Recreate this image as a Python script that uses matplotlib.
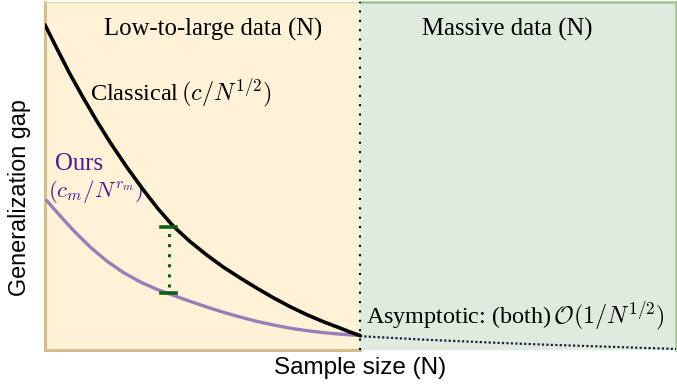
import matplotlib
matplotlib.use("Agg")
import matplotlib.pyplot as plt
from matplotlib.patches import Rectangle

plt.rcParams['mathtext.fontset'] = 'cm'

# ---- data (arbitrary units) ----
classical_x = [0.0, 1.90, 3.96, 6.07, 8.19, 10.30, 12.95, 15.58, 17.91, 20.33, 22.98,
               25.63, 28.21, 30.90, 33.60, 36.18, 38.83, 41.47, 44.06, 46.75, 48.34, 49.92]
classical_y = [93.39, 86.49, 79.17, 72.27, 65.66, 59.48, 52.30, 45.69, 40.23, 35.20, 30.75,
               26.87, 23.42, 20.26, 17.24, 14.51, 11.93, 9.63, 7.61, 5.75, 4.60, 3.59]
ours_x = [0.27, 2.38, 4.48, 7.13, 9.78, 12.41, 15.06, 17.70, 20.33, 22.98,
          25.63, 28.21, 30.90, 33.60, 36.18, 38.83, 41.47, 44.06, 46.75, 49.92]
ours_y = [42.61, 38.22, 34.02, 29.22, 25.14, 21.81, 19.11, 16.95, 15.20, 13.48,
          11.84, 10.34, 8.94, 7.67, 6.64, 5.72, 5.00, 4.43, 3.99, 3.59]
asym_x = [49.9, 60.0, 70.0, 80.0, 90.0, 100.0]
asym_y = [3.4, 2.4, 1.6, 0.9, 0.3, -0.3]
gap_x = 19.6
gap_low, gap_high = 15.8, 35.1
boundary_x = 49.9

fig = plt.figure(figsize=(6.77, 3.88), dpi=100)
ax = fig.add_axes([45/677, 38/388, 631/677, 348/388])
ax.set_xlim(0, 100)
ax.set_ylim(-0.6, 100)

# regions
ax.add_patch(Rectangle((0, -0.6), boundary_x, 100.6, facecolor='#FFF2D6',
                       edgecolor='none', zorder=0))
ax.add_patch(Rectangle((boundary_x, -0.6), 100 - boundary_x, 100.6,
                       facecolor='#DFECDD', edgecolor='none', zorder=0))
# borders
ax.plot([0, 0], [-0.6, 100], color='#D2BE8C', lw=2.2, zorder=1, clip_on=False)
ax.plot([0, boundary_x], [-0.6, -0.6], color='#D2BE8C', lw=2.2, zorder=1, clip_on=False)
ax.plot([0, boundary_x], [100, 100], color='#E8D9B0', lw=1.0, zorder=1, clip_on=False)
ax.plot([boundary_x, 100], [100, 100], color='#9DC78F', lw=1.8, zorder=1, clip_on=False)
ax.plot([100, 100], [-0.6, 100], color='#9DC78F', lw=1.8, zorder=1, clip_on=False)

ax.axvline(boundary_x, color='black', lw=1.5, ls=(0, (1, 3.5)), zorder=2)

ax.plot(ours_x, ours_y, color='#9A7CB8', lw=2.4, zorder=3,
        solid_capstyle='round', solid_joinstyle='round')
ax.plot(classical_x, classical_y, color='black', lw=2.6, zorder=4,
        solid_capstyle='round', solid_joinstyle='round')
ax.plot(asym_x, asym_y, color='#1E1E4A', lw=1.6, ls=(0, (1, 1)), zorder=3)

# gap bar
ax.plot([gap_x, gap_x], [gap_low + 1.7, gap_high - 1.7], color='#0F5F0F',
        lw=2.2, ls=(0, (1, 2.3)), zorder=5)
ax.plot([gap_x - 1.15, gap_x + 1.15], [gap_low, gap_low], color='#0F5F0F', lw=2.6, zorder=5)
ax.plot([gap_x - 1.15, gap_x + 1.15], [gap_high, gap_high], color='#0F5F0F', lw=2.6, zorder=5)

serif = 'Liberation Serif'
fs = 17.8
ax.text(26.7, 92.0, 'Low-to-large data (N)', family=serif, fontsize=fs,
        ha='center', va='center')
ax.text(73.2, 92.0, 'Massive data (N)', family=serif, fontsize=fs,
        ha='center', va='center')
ax.text(7.13, 73.9, r'Classical$\,(c/N^{1/2})$', family=serif, fontsize=17.5,
        ha='left', va='center')
ax.text(1.58, 53.2, 'Ours', family=serif, fontsize=fs, color='#4B1A9A',
        ha='left', va='center')
ax.text(0.48, 45.1, r'$(c_m/N^{r_m})$', fontsize=16.6, color='#4B1A9A',
        ha='left', va='center')
ax.text(50.9, 9.2, r'Asymptotic: (both)$\,\mathcal{O}(1/N^{1/2})$', family=serif,
        fontsize=17.4, ha='left', va='center')

ax.set_xticks([])
ax.set_yticks([])
for s in ax.spines.values():
    s.set_visible(False)

fig.text(360/677, 1 - 368/388, 'Sample size (N)', family='Liberation Sans',
         fontsize=17.5, ha='center', va='center')
fig.text(20/677, 1 - 198/388, 'Generalization gap', family='Liberation Sans',
         fontsize=16.8, ha='center', va='center', rotation=90)

fig.savefig('out.png', dpi=100)
